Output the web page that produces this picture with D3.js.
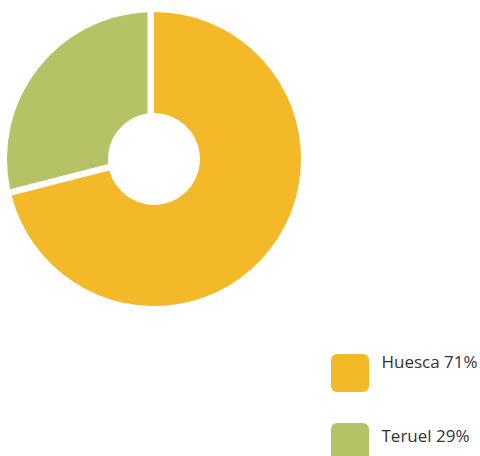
<!DOCTYPE html>
<html>
<head>
<meta charset="utf-8">
<script src="https://cdn.jsdelivr.net/npm/d3@7"></script>
<style>
  html, body { margin: 0; padding: 0; background: #fff; }
  svg { display: block; }
</style>
</head>
<body>
<svg id="chart" width="480" height="456"></svg>
<script>
// Share of the total by province
const provinces = ["Huesca", "Teruel"];
const shares = [71, 29];
const labels = ["Huesca 71%", "Teruel 29%"];
const colors = ["#F3B929", "#B5C266"];

const svg = d3.select("#chart");
const cx = 154, cy = 159, outerR = 147, innerR = 46;

const data = provinces.map((p, i) => ({ name: p, value: shares[i], color: colors[i] }));
const pie = d3.pie().sort(null).value(d => d.value).startAngle(0).endAngle(2 * Math.PI);

// The second slice is inset by a thin white gap on both of its sides
const gapPx = 6.5;
const arc = d3.arc()
  .innerRadius(innerR)
  .outerRadius(outerR)
  .padRadius(outerR)
  .padAngle(d => d.index === 1 ? (2 * gapPx) / outerR : 0);

svg.append("g")
  .attr("transform", `translate(${cx},${cy})`)
  .selectAll("path")
  .data(pie(data))
  .join("path")
  .attr("d", arc)
  .attr("fill", d => d.data.color);

// Legend: swatches and their labels
const legend = svg.append("g").attr("transform", "translate(331,354)");

legend.selectAll("rect")
  .data(data)
  .join("rect")
  .attr("y", (d, i) => i * 69)
  .attr("width", 38)
  .attr("height", 38)
  .attr("rx", 6)
  .attr("ry", 6)
  .attr("fill", d => d.color);

legend.selectAll("text")
  .data(data)
  .join("text")
  .attr("x", 50.5)
  .attr("y", (d, i) => 13.7 + i * 74.3)
  .attr("font-family", "'Open Sans', sans-serif")
  .attr("font-size", 17)
  .attr("fill", "#333")
  .text((d, i) => labels[i]);
</script>
</body>
</html>
